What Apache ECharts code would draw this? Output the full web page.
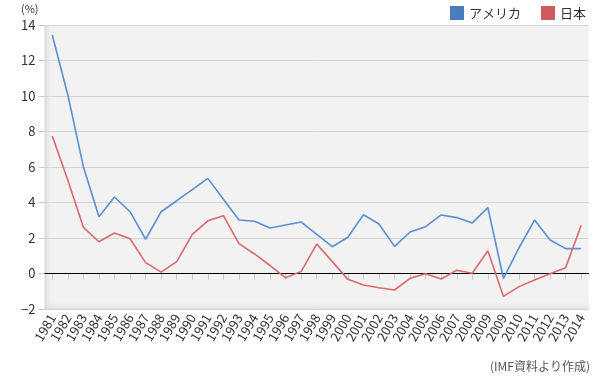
<!DOCTYPE html>
<html>
<head>
<meta charset="utf-8">
<script src="https://cdn.jsdelivr.net/npm/echarts@6/dist/echarts.min.js"></script>
<style>html,body{margin:0;padding:0;background:#fff}#c{width:610px;height:376px}</style>
</head>
<body>
<div id="c"></div>
<script>
const categories = ['1981','1982','1983','1984','1985','1986','1987','1988','1989','1990','1991','1992','1993','1994','1995','1996','1997','1998','1999','2000','2001','2002','2003','2004','2005','2006','2007','2008','2009','2009','2010','2011','2012','2013','2014'];
const usa = [13.44,10.06,6.02,3.2,4.31,3.48,1.93,3.48,4.1,4.73,5.36,4.18,3.01,2.94,2.56,2.73,2.9,2.21,1.51,2.04,3.31,2.79,1.53,2.34,2.64,3.3,3.15,2.85,3.71,-0.27,1.45,3.01,1.89,1.4,1.4];
const japan = [7.75,5.25,2.6,1.79,2.28,1.96,0.61,0.08,0.67,2.21,2.97,3.26,1.68,1.1,0.45,-0.24,0.12,1.66,0.67,-0.33,-0.65,-0.8,-0.93,-0.27,-0.01,-0.31,0.18,0.01,1.28,-1.29,-0.74,-0.37,-0.01,0.33,2.72];
const seriesNames = ['アメリカ','日本'];
const yTicks = {min:-2, max:14, interval:2};

const G = {left:44.5, right:21, top:25, bottom:67};
const W = 610, H = 376;
const font = '"Noto Sans CJK JP", "Noto Sans", sans-serif';
const chart = echarts.init(document.getElementById('c'));
const gx0 = G.left, gx1 = W - G.right, gy0 = G.top, gy1 = H - G.bottom;
chart.setOption({
  animation:false,
  textStyle:{fontFamily:font},
  grid:{left:G.left,right:G.right,top:G.top,bottom:G.bottom,show:true,backgroundColor:'#f2f2f2',borderWidth:0},
  legend:{right:19,top:1,itemWidth:14,itemHeight:14,itemGap:20,icon:'rect',
    textStyle:{fontSize:13,color:'#333',fontFamily:font},
    data:seriesNames.map(n=>({name:n}))},
  xAxis:{type:'category',data:categories,boundaryGap:true,
    axisLine:{show:true,lineStyle:{color:'#d6d6d6'}},
    axisTick:{show:true,alignWithLabel:true,length:6,lineStyle:{color:'#c8c8c8'}},
    axisLabel:{rotate:60,interval:0,fontSize:13,color:'#333',margin:6,fontFamily:font},
    splitLine:{show:false}},
  yAxis:{type:'value',min:yTicks.min,max:yTicks.max,interval:yTicks.interval,
    axisLine:{show:false},
    axisTick:{show:true,length:6,lineStyle:{color:'#c8c8c8'}},
    axisLabel:{fontSize:13,color:'#333',margin:9,fontFamily:font,formatter:v=>String(v).replace('-','\u2212')},
    splitLine:{show:true,lineStyle:{color:'#d4d4d4',width:1}}},
  graphic:[
    {type:'rect',silent:true,z:1,shape:{x:gx0,y:gy0,width:9,height:gy1-gy0},
     style:{fill:new echarts.graphic.LinearGradient(0,0,1,0,[{offset:0,color:'rgba(200,200,200,0.6)'},{offset:1,color:'rgba(242,242,242,0)'}])}},
    {type:'rect',silent:true,z:1,shape:{x:gx0,y:gy1-9,width:gx1-gx0,height:9},
     style:{fill:new echarts.graphic.LinearGradient(0,0,0,1,[{offset:0,color:'rgba(242,242,242,0)'},{offset:1,color:'rgba(215,215,215,0.6)'}])}},
    {type:'text',left:21,top:3,style:{text:'(%)',fontSize:11,fill:'#333',fontFamily:font}},
    {type:'text',right:20,top:360,style:{text:'(IMF資料より作成)',fontSize:12,fill:'#555',fontFamily:font}}
  ],
  series:[
    {name:seriesNames[0],type:'line',data:usa,symbol:'none',z:5,
     itemStyle:{color:'#4a7ebb'},lineStyle:{color:'#5b8fd3',width:1.6},
     markLine:{silent:true,symbol:'none',label:{show:false},lineStyle:{color:'#000',width:1,type:'solid'},data:[{yAxis:0}]}},
    {name:seriesNames[1],type:'line',data:japan,symbol:'none',z:5,
     itemStyle:{color:'#d05b5f'},lineStyle:{color:'#d9696d',width:1.6}}
  ]
});
</script>
</body>
</html>
